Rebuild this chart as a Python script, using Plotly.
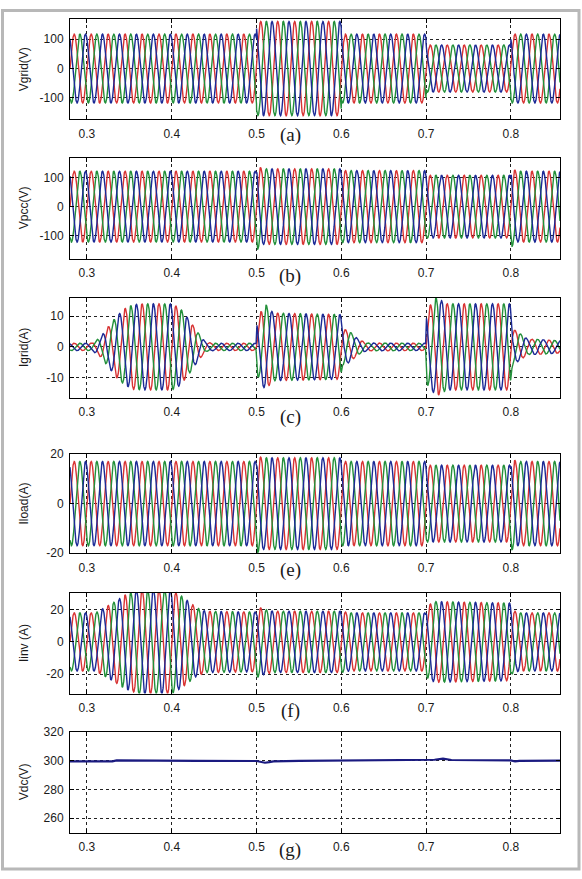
import numpy as np
import plotly.graph_objects as go

# ---------------- data ----------------
FREQ_HZ = 50.0
T_START, T_END = 0.28, 0.858
DT = 1.0e-4

X_TICKS = [0.3, 0.4, 0.5, 0.6, 0.7, 0.8]
X_TICK_LABELS = ["0.3", "0.4", "0.5", "0.6", "0.7", "0.8"]

# (a) grid voltage envelope (peak volts)
vgrid_t = [0.28, 0.4999, 0.5001, 0.5999, 0.6001, 0.6999, 0.7001, 0.7999, 0.8001, 0.858]
vgrid_amp = [117, 117, 160, 160, 117, 117, 80, 80, 117, 117]

# (b) PCC voltage envelope
vpcc_t = [0.28, 0.4995, 0.5005, 0.506, 0.5995, 0.6005, 0.6995, 0.7005, 0.7995, 0.8005, 0.806, 0.858]
vpcc_amp = [122, 122, 150, 130, 130, 124, 124, 108, 108, 140, 122, 122]

# (c) grid current envelope
igrid_t = [0.28, 0.305, 0.315, 0.325, 0.335, 0.345, 0.355, 0.37, 0.40, 0.41, 0.42, 0.43, 0.44, 0.45,
           0.4995, 0.5005, 0.51, 0.52, 0.5995, 0.6015, 0.61, 0.62, 0.63, 0.6995, 0.7005, 0.712, 0.725,
           0.7995, 0.8015, 0.81, 0.82, 0.83, 0.858]
igrid_amp = [1.2, 1.2, 3.0, 6.5, 10.0, 12.5, 13.8, 14.0, 14.0, 12.5, 9.0, 5.0, 1.5, 1.2,
             1.2, 9.0, 14.0, 11.0, 10.5, 6.0, 5.0, 2.5, 1.3, 1.2, 12.0, 16.0, 14.0,
             14.0, 6.0, 4.5, 2.5, 2.5, 2.0]

# (e) load current envelope
iload_t = [0.28, 0.4995, 0.5005, 0.506, 0.5995, 0.6005, 0.6995, 0.7005, 0.7995, 0.8005, 0.806, 0.858]
iload_amp = [17, 17, 20, 18.5, 18.5, 17, 17, 15.5, 15.5, 19, 17, 17]

# (f) inverter current envelope
iinv_t = [0.28, 0.31, 0.33, 0.345, 0.36, 0.40, 0.41, 0.42, 0.43, 0.44, 0.4995, 0.5005, 0.51, 0.52,
          0.6, 0.61, 0.6995, 0.7005, 0.71, 0.7995, 0.8005, 0.81, 0.858]
iinv_amp = [18, 18, 24, 29, 32, 32, 29, 25, 21, 19, 18.5, 22, 20, 19,
            19, 18, 18, 22, 25, 24, 20, 18, 18]

# (g) dc-link voltage
vdc_t = [0.28, 0.33, 0.335, 0.42, 0.43, 0.5, 0.505, 0.51, 0.515, 0.52, 0.55, 0.6, 0.62, 0.7,
         0.71, 0.72, 0.725, 0.73, 0.8, 0.805, 0.81, 0.858]
vdc_v = [299.6, 299.6, 300.2, 300.3, 299.9, 299.8, 299.4, 298.6, 299.0, 299.6, 299.9, 300.0, 300.3, 300.4,
         300.7, 301.4, 300.9, 300.5, 300.2, 299.5, 299.9, 300.1]

PANELS = [
    dict(t=vgrid_t, amp=vgrid_amp, yrange=[-172, 168], yticks=[-100, 0, 100], title="Vgrid(V)", tag="(a)"),
    dict(t=vpcc_t, amp=vpcc_amp, yrange=[-179, 168], yticks=[-100, 0, 100], title="Vpcc(V)", tag="(b)"),
    dict(t=igrid_t, amp=igrid_amp, yrange=[-16.6, 15.9], yticks=[-10, 0, 10], title="Igrid(A)", tag="(c)"),
    dict(t=iload_t, amp=iload_amp, yrange=[-20, 20], yticks=[-20, 0, 20], title="Iload(A)", tag="(e)"),
    dict(t=iinv_t, amp=iinv_amp, yrange=[-32, 30.6], yticks=[-20, 0, 20], title="Iinv (A)", tag="(f)"),
]
VDC_PANEL = dict(yrange=[250, 320], yticks=[260, 280, 300, 320], title="Vdc(V)", tag="(g)")

PHASE_DEG = [0, -120, 120]
PHASE_COLORS = ["#d83434", "#23903a", "#1c2a96"]

# ---------------- layout geometry (pixels) ----------------
W, H = 582, 879
PLOT_L, PLOT_R = 70, 560
BOXES = [(12.3, 114), (153.3, 255.7), (295.7, 397.3), (454.3, 555), (595, 697.7), (736.7, 839)]
TAG_Y = [130, 273, 416.5, 572, 715.5, 856.5]
TAG_X = 290
TITLE_X = 24

t = np.arange(T_START, T_END + DT / 2, DT)

fig = go.Figure()
layout = dict(width=W, height=H, margin=dict(l=0, r=0, t=0, b=0), autosize=False,
              paper_bgcolor="white", plot_bgcolor="white", showlegend=False,
              annotations=[], shapes=[])

tick_font = dict(family="Liberation Sans, Arial, sans-serif", size=12, color="#1a1a1a")


def axis_common():
    return dict(showline=True, linecolor="black", linewidth=1, mirror="allticks",
                ticks="inside", ticklen=4, tickcolor="black", tickwidth=1,
                showgrid=True, gridcolor="#222222", gridwidth=1, griddash="dot",
                zeroline=False, tickfont=tick_font)


all_panels = PANELS + [VDC_PANEL]
for i, p in enumerate(all_panels):
    n = i + 1
    xa = "x" if n == 1 else f"x{n}"
    ya = "y" if n == 1 else f"y{n}"
    top, bot = BOXES[i]
    xd = [PLOT_L / W, PLOT_R / W]
    yd = [1 - bot / H, 1 - top / H]
    ax = axis_common()
    ax.update(domain=xd, range=[T_START, T_END], tickmode="array", tickvals=X_TICKS,
              ticktext=X_TICK_LABELS, anchor=ya, ticklabelstandoff=3)
    ay = axis_common()
    ay.update(domain=yd, range=p["yrange"], tickmode="array", tickvals=p["yticks"],
              ticktext=[str(v) for v in p["yticks"]], anchor=xa, ticklabelstandoff=3)
    layout["xaxis" if n == 1 else f"xaxis{n}"] = ax
    layout["yaxis" if n == 1 else f"yaxis{n}"] = ay

    if i < len(PANELS):
        env = np.interp(t, p["t"], p["amp"])
        for ph, col in zip(PHASE_DEG, PHASE_COLORS):
            y = env * np.sin(2 * np.pi * FREQ_HZ * t + np.deg2rad(ph))
            fig.add_trace(go.Scatter(x=t, y=y, mode="lines", line=dict(color=col, width=1.4),
                                     xaxis=xa, yaxis=ya, hoverinfo="skip"))
    else:
        fig.add_trace(go.Scatter(x=vdc_t, y=vdc_v, mode="lines", line=dict(color="#1a1a80", width=2.2),
                                 xaxis=xa, yaxis=ya, hoverinfo="skip"))

    layout["annotations"].append(dict(text=p["title"], x=TITLE_X / W, y=1 - (top + bot) / 2 / H,
                                      xref="paper", yref="paper", showarrow=False, textangle=-90,
                                      font=dict(family="Liberation Sans, Arial, sans-serif", size=12,
                                                color="#1a1a1a"),
                                      xanchor="center", yanchor="middle"))
    layout["annotations"].append(dict(text=p["tag"], x=TAG_X / W, y=1 - TAG_Y[i] / H,
                                      xref="paper", yref="paper", showarrow=False,
                                      font=dict(family="Liberation Serif, Times New Roman, serif",
                                                size=19, color="#1a1a1a"),
                                      xanchor="center", yanchor="middle"))

layout["shapes"].append(dict(type="rect", xref="paper", yref="paper",
                             x0=2.5 / W, x1=(W - 3) / W, y0=3 / H, y1=1 - 3.5 / H,
                             line=dict(color="#b8b8b8", width=3), fillcolor="rgba(0,0,0,0)"))

fig.update_layout(**layout)
fig.write_html("out.html")
